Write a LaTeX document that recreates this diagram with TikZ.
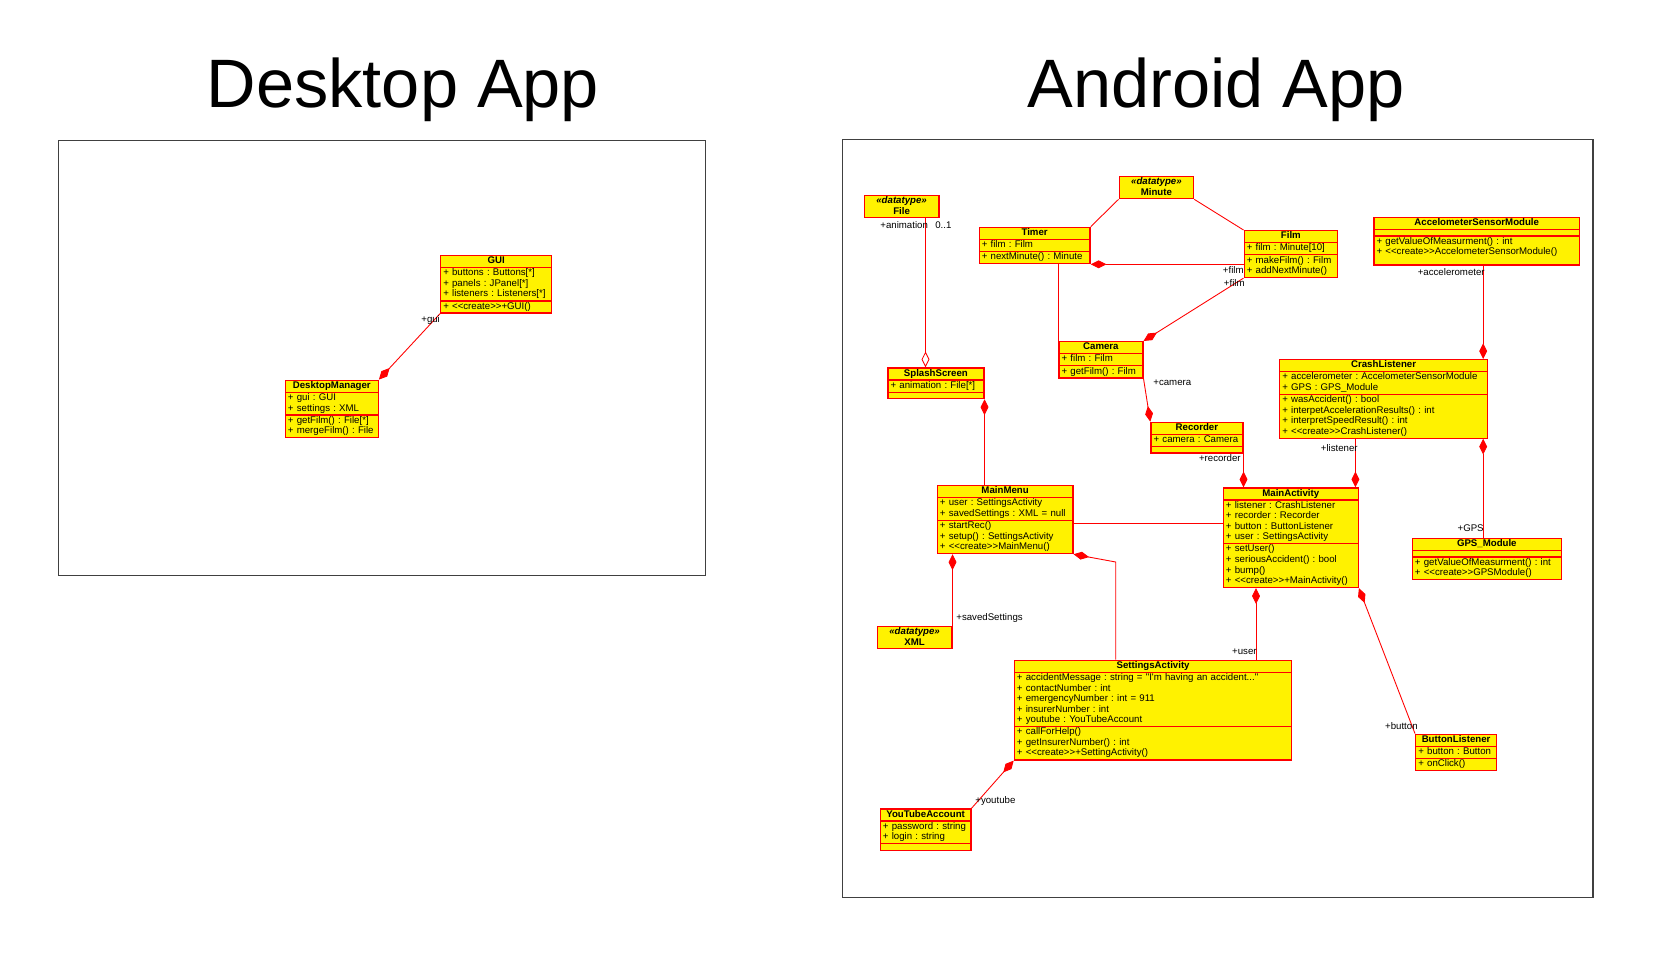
\documentclass[tikz,border=0pt]{standalone}
\usepackage{fontspec}
\setmainfont{Liberation Sans}[Ligatures=TeXOff]
\usetikzlibrary{shapes.multipart,arrows.meta,calc,positioning}
\newcommand\umlfont{\fontsize{5.5}{6.0}\selectfont\frenchspacing}
\newcommand\rows[1]{\begin{tabular}{@{}l@{}}#1\end{tabular}}
\newcommand\crows[1]{\begin{tabular}{@{}c@{}}#1\end{tabular}}
\newcommand\head[1]{\makebox[\linewidth]{\rows{\textbf{#1}}}}
\newcommand\nopart{\rule{0pt}{2.8pt}}
\tikzset{
	umlclass/.style={draw=red, fill=yellow, line width=0.7pt, rectangle split, rectangle split parts=3,
		anchor=north west, align=left, inner xsep=1.5pt, inner ysep=0.1pt, font=\umlfont,
		text width=#1*0.569pt-3pt},
	datatype/.style={draw=red, fill=yellow, line width=0.7pt, anchor=north west, align=center,
		inner xsep=1.5pt, inner ysep=0.3pt, font=\umlfont\bfseries, text width=#1*0.569pt-3pt},
	lbl/.style={font=\umlfont, inner sep=0pt},
	assoc/.style={draw=red, line width=0.5pt},
	compo/.style={assoc, -{Diamond[length=9pt,width=4.5pt]}},
	compoback/.style={assoc, {Diamond[length=9pt,width=4.5pt]}-},
	aggr/.style={assoc, -{Diamond[open,length=9pt,width=4.5pt]}},
	frame/.style={draw=black!75, line width=0.6pt},
	apptitle/.style={font=\fontsize{39}{45}\selectfont, anchor=base, inner sep=0pt}
}
\begin{document}
\begin{tikzpicture}[x=0.02cm, y=-0.02cm]
	\useasboundingbox (0,0) rectangle (1672,957);
	%\draw[step=100,black,very thin] (0,0) grid (1672,957);
	\node[apptitle] (desktoptitle) at (403,107.7) {Desktop App};
	\node[apptitle] (androidtitle) at (1216,107.7) {Android App};
	\draw[frame] (58.6,140.8) rectangle (705.9,575.8);
	\draw[frame] (842.4,139.7) rectangle (1593,897.8);

	% desktop
	\node[umlclass=111] (gui) at (440,255) {\head{GUI}
		\nodepart{two}\rows{+ buttons : Buttons[*]\\+ panels : JPanel[*]\\+ listeners : Listeners[*]}
		\nodepart{three}\rows{+ <<create>>+GUI()}};
	\node[umlclass=93] (desktopmgr) at (284.7,379.6) {\head{DesktopManager}
		\nodepart{two}\rows{+ gui : GUI\\+ settings : XML}
		\nodepart{three}\rows{+ getFilm() : File[*]\\+ mergeFilm() : File}};
	\draw[compo] (gui.south west) -- (desktopmgr.north east);
	\node[lbl, anchor=west] (lgui) at (421,320) {+gui};

	% android
	\node[datatype=74.6] (file) at (863.7,195.1) {\crows{\textit{«datatype»}\\File}};
	\node[datatype=74.6] (minute) at (1118.5,176) {\crows{\textit{«datatype»}\\Minute}};
	\node[datatype=74.6] (xml) at (876.7,626) {\crows{\textit{«datatype»}\\XML}};
	\node[umlclass=111] (timer) at (978.5,226.7) {\head{Timer}
		\nodepart{two}\rows{+ film : Film}
		\nodepart{three}\rows{+ nextMinute() : Minute}};
	\node[umlclass=93.5] (film) at (1243.5,230) {\head{Film}
		\nodepart{two}\rows{+ film : Minute[10]}
		\nodepart{three}\rows{+ makeFilm() : Film\\+ addNextMinute()}};
	\node[umlclass=205.7] (accel) at (1373.3,216.7) {\head{AccelometerSensorModule}
		\nodepart{two}\nopart
		\nodepart{three}\rows{+ getValueOfMeasurment() : int\\+ <<create>>AccelometerSensorModule()\\[3.6pt]}};
	\node[umlclass=84] (camera) at (1058.3,341) {\head{Camera}
		\nodepart{two}\rows{+ film : Film}
		\nodepart{three}\rows{+ getFilm() : Film}};
	\node[umlclass=96] (splash) at (887.3,367.3) {\head{SplashScreen}
		\nodepart{two}\rows{+ animation : File[*]}
		\nodepart{three}\nopart};
	\node[umlclass=92] (recorder) at (1150.3,421.7) {\head{Recorder}
		\nodepart{two}\rows{+ camera : Camera}
		\nodepart{three}\nopart};
	\node[umlclass=208] (crash) at (1279,359) {\head{CrashListener}
		\nodepart{two}\rows{+ accelerometer : AccelometerSensorModule\\+ GPS : GPS\_Module}
		\nodepart{three}\rows{+ wasAccident() : bool\\+ interpetAccelerationResults() : int\\+ interpretSpeedResult() : int\\+ <<create>>CrashListener()}};
	\node[umlclass=135.6] (mainmenu) at (936.7,485) {\head{MainMenu}
		\nodepart{two}\rows{+ user : SettingsActivity\\+ savedSettings : XML = null}
		\nodepart{three}\rows{+ startRec()\\+ setup() : SettingsActivity\\+ <<create>>MainMenu()}};
	\node[umlclass=135] (mainact) at (1222.7,487.3) {\head{MainActivity}
		\nodepart{two}\rows{+ listener : CrashListener\\+ recorder : Recorder\\+ button : ButtonListener\\+ user : SettingsActivity}
		\nodepart{three}\rows{+ setUser()\\+ seriousAccident() : bool\\+ bump()\\+ <<create>>+MainActivity()}};
	\node[umlclass=149] (gps) at (1411.7,537.7) {\head{GPS\_Module}
		\nodepart{two}\nopart
		\nodepart{three}\rows{+ getValueOfMeasurment() : int\\+ <<create>>GPSModule()}};
	\node[umlclass=277.6] (settings) at (1013.7,659.7) {\head{SettingsActivity}
		\nodepart{two}\rows{+ accidentMessage : string = "I'm having an accident..."\\+ contactNumber : int\\+ emergencyNumber : int = 911\\+ insurerNumber : int\\+ youtube : YouTubeAccount}
		\nodepart{three}\rows{+ callForHelp()\\+ getInsurerNumber() : int\\+ <<create>>+SettingActivity()}};
	\node[umlclass=81] (button) at (1415,733.6) {\head{ButtonListener}
		\nodepart{two}\rows{+ button : Button}
		\nodepart{three}\rows{+ onClick()}};
	\node[umlclass=90.6] (youtube) at (879.7,808.3) {\head{YouTubeAccount}
		\nodepart{two}\rows{+ password : string\\+ login : string}
		\nodepart{three}\nopart};

	\coordinate (fa) at ($(file.south west)+(61.8,0)$);
	\draw[aggr] (fa) -- (fa |- splash.north);
	\draw[compoback] (splash.south east) -- (splash.south east |- mainmenu.north);
	\draw[assoc] (timer.north east) -- (minute.south west);
	\draw[assoc] (minute.south east) -- (film.north west);
	\draw[compoback] (timer.south east) -- (timer.south east -| film.west);
	\draw[assoc] (camera.north west |- timer.south) -- (camera.north west);
	\draw[compo] (film.south west) -- (camera.north east);
	\draw[compo] (camera.south east) -- (recorder.north west);
	\draw[compo] (recorder.south east) -- (recorder.south east |- mainact.north);
	\coordinate (ml) at ($(mainact.north east)+(-3.5,0)$);
	\draw[compo] (ml |- crash.south) -- (ml);
	\coordinate (ac) at ($(crash.north east)+(-5,0)$);
	\draw[compo] (ac |- accel.south) -- (ac);
	\draw[compoback] (ac |- crash.south) -- (ac |- gps.north);
	\coordinate (mm) at ($(mainmenu.north east)+(0,38.5)$);
	\draw[assoc] (mm) -- (mm -| mainact.west);
	\draw[compoback] (xml.north east |- mainmenu.south) -- (xml.north east);
	\coordinate (ms) at ($(settings.north west)+(102,0)$);
	\draw[compoback] (mainmenu.south east) -- ($(ms)+(0,-97.7)$) -- (ms);
	\coordinate (mu) at ($(mainact.south west)+(33.3,0)$);
	\draw[compoback] (mu) -- (mu |- settings.north);
	\draw[compoback] (mainact.south east) -- (button.north west);
	\draw[compoback] (settings.south west) -- (youtube.north east);

	\node[lbl, anchor=west] (lanim) at (880,225) {+animation};
	\node[lbl, anchor=west] (lmult) at (935,225) {0..1};
	\node[lbl, anchor=east] (lfilma) at (1244,270) {+film};
	\node[lbl, anchor=east] (lfilmb) at (1245,283) {+film};
	\node[lbl, anchor=west] (lcamera) at (1153,383) {+camera};
	\node[lbl, anchor=east] (lrecorder) at (1241,458.5) {+recorder};
	\node[lbl, anchor=east] (llistener) at (1358,448) {+listener};
	\node[lbl, anchor=east] (laccel) at (1485,271.7) {+accelerometer};
	\node[lbl, anchor=east] (lgps) at (1484,528) {+GPS};
	\node[lbl, anchor=west] (lsaved) at (956,617.7) {+savedSettings};
	\node[lbl, anchor=east] (luser) at (1257,651.7) {+user};
	\node[lbl, anchor=east] (lbutton) at (1418,726) {+button};
	\node[lbl, anchor=west] (lyoutube) at (975,801) {+youtube};
\end{tikzpicture}
\end{document}
